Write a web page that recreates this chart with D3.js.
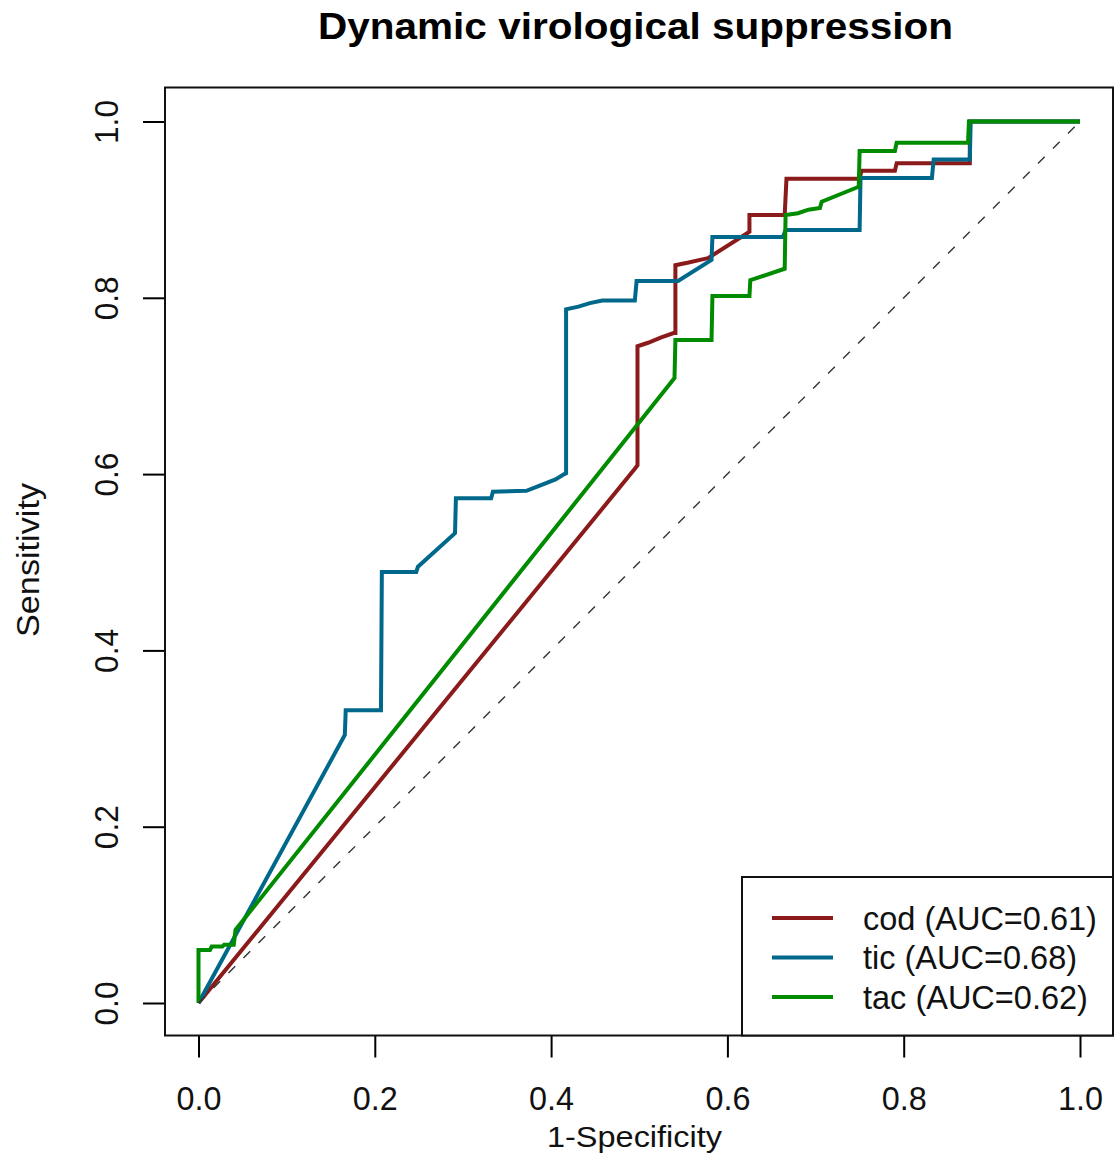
<!DOCTYPE html>
<html>
<head>
<meta charset="utf-8">
<script src="https://cdn.jsdelivr.net/npm/d3@7"></script>
<style>
  body { margin: 0; background: #fff; }
  svg { display: block; font-family: "Liberation Sans", Arial, sans-serif; }
</style>
</head>
<body>
<svg id="chart" width="1115" height="1162"></svg>
<script>
// ROC curves
const codX = [0, 0.495, 0.498, 0.498, 0.510, 0.525, 0.539, 0.541, 0.541, 0.556, 0.569, 0.578, 0.622, 0.625, 0.625, 0.665, 0.667, 0.750, 0.752, 0.790, 0.792, 0.875, 0.875, 1];
const codY = [0, 0.606, 0.610, 0.745, 0.749, 0.755, 0.760, 0.760, 0.837, 0.840, 0.843, 0.845, 0.873, 0.875, 0.894, 0.894, 0.935, 0.935, 0.944, 0.944, 0.9525, 0.9525, 1, 1];

const ticX = [0, 0.166, 0.167, 0.207, 0.208, 0.247, 0.249, 0.291, 0.292, 0.332, 0.334, 0.372, 0.390, 0.405, 0.415, 0.417, 0.417, 0.431, 0.444, 0.458, 0.495, 0.497, 0.544, 0.582, 0.583, 0.663, 0.666, 0.750, 0.751, 0.832, 0.834, 0.875, 0.876, 1];
const ticY = [0, 0.304, 0.332, 0.332, 0.489, 0.489, 0.495, 0.533, 0.5725, 0.5725, 0.580, 0.581, 0.588, 0.594, 0.600, 0.601, 0.787, 0.790, 0.794, 0.797, 0.797, 0.819, 0.819, 0.843, 0.869, 0.869, 0.877, 0.877, 0.936, 0.936, 0.957, 0.957, 1, 1];

const tacX = [0, 0, 0.013, 0.015, 0.027, 0.029, 0.040, 0.042, 0.540, 0.541, 0.582, 0.583, 0.625, 0.626, 0.665, 0.666, 0.680, 0.692, 0.705, 0.707, 0.749, 0.750, 0.790, 0.792, 0.873, 0.874, 1];
const tacY = [0, 0.060, 0.060, 0.064, 0.064, 0.066, 0.066, 0.083, 0.709, 0.752, 0.752, 0.802, 0.802, 0.820, 0.833, 0.894, 0.896, 0.900, 0.902, 0.909, 0.926, 0.9665, 0.9665, 0.976, 0.976, 1, 1];

const seriesNames = ['cod', 'tic', 'tac'];
const seriesAuc = ['0.61', '0.68', '0.62'];
const seriesColors = ['#8B1A1A', '#00688B', '#008B00'];
const tickValues = [0, 0.2, 0.4, 0.6, 0.8, 1.0];

const series = [
  {x: codX, y: codY},
  {x: ticX, y: ticY},
  {x: tacX, y: tacY}
].map((s, i) => ({
  name: seriesNames[i],
  auc: seriesAuc[i],
  color: seriesColors[i],
  points: s.x.map((v, j) => [v, s.y[j]])
}));

const svg = d3.select('#chart');
const box = {left: 165, right: 1113, top: 87.5, bottom: 1035.5};

const x = d3.scaleLinear().domain([0, 1]).range([198.5, 1080]);
const y = d3.scaleLinear().domain([0, 1]).range([1003, 121.5]);

// axes
const xAxis = svg.append('g')
    .attr('transform', `translate(0,${box.bottom})`)
    .call(d3.axisBottom(x).tickValues(tickValues).tickFormat(d3.format('.1f'))
      .tickSize(22).tickPadding(29));
xAxis.select('.domain').remove();
xAxis.selectAll('line').attr('stroke', '#000').attr('stroke-width', 2);
xAxis.selectAll('text').attr('font-size', 33).attr('fill', '#111')
    .attr('textLength', 45).attr('lengthAdjust', 'spacingAndGlyphs')
    .attr('font-family', '"Liberation Sans", Arial, sans-serif');

const yAxis = svg.append('g')
    .attr('transform', `translate(${box.left},0)`)
    .call(d3.axisLeft(y).tickValues(tickValues).tickFormat(d3.format('.1f')).tickSize(22));
yAxis.select('.domain').remove();
yAxis.selectAll('line').attr('stroke', '#000').attr('stroke-width', 2);
yAxis.selectAll('text')
    .attr('x', null).attr('dy', null)
    .attr('transform', 'translate(-47,0) rotate(-90)')
    .attr('text-anchor', 'middle')
    .attr('font-size', 33).attr('fill', '#111')
    .attr('textLength', 44).attr('lengthAdjust', 'spacingAndGlyphs')
    .attr('font-family', '"Liberation Sans", Arial, sans-serif');

// plot box
svg.append('rect')
    .attr('x', box.left).attr('y', box.top)
    .attr('width', box.right - box.left).attr('height', box.bottom - box.top)
    .attr('fill', 'none').attr('stroke', '#111').attr('stroke-width', 2);

// curves
const line = d3.line().x(d => x(d[0])).y(d => y(d[1]));
svg.append('g').selectAll('path')
  .data(series)
  .join('path')
    .attr('d', d => line(d.points))
    .attr('fill', 'none')
    .attr('stroke', d => d.color)
    .attr('stroke-width', 4)
    .attr('stroke-linejoin', 'miter');

// chance line
svg.append('path')
    .attr('d', line([[0, 0], [1, 1]]))
    .attr('stroke', '#333').attr('stroke-width', 1.4)
    .attr('stroke-dasharray', '9.5,11.7').attr('fill', 'none');

// titles
svg.append('text')
    .attr('x', 635.5).attr('y', 39)
    .attr('text-anchor', 'middle')
    .attr('font-weight', 'bold').attr('font-size', 37)
    .attr('textLength', 635).attr('lengthAdjust', 'spacingAndGlyphs')
    .text('Dynamic virological suppression');

svg.append('text')
    .attr('x', 634.5).attr('y', 1147)
    .attr('text-anchor', 'middle').attr('font-size', 29).attr('fill', '#111')
    .attr('textLength', 175).attr('lengthAdjust', 'spacingAndGlyphs')
    .text('1-Specificity');

svg.append('text')
    .attr('transform', 'translate(39,560) rotate(-90)')
    .attr('text-anchor', 'middle').attr('font-size', 31).attr('fill', '#111')
    .attr('textLength', 154).attr('lengthAdjust', 'spacingAndGlyphs')
    .text('Sensitivity');

// legend
const legend = svg.append('g');
legend.append('rect')
    .attr('x', 742).attr('y', 877)
    .attr('width', box.right - 742).attr('height', box.bottom - 877)
    .attr('fill', '#fff').attr('stroke', '#111').attr('stroke-width', 2);

const rows = legend.selectAll('g.row')
  .data(series)
  .join('g')
    .attr('class', 'row')
    .attr('transform', (d, i) => `translate(0,${918 + i * 39.5})`);
rows.append('line')
    .attr('x1', 772).attr('x2', 833)
    .attr('stroke', d => d.color).attr('stroke-width', 4);
rows.append('text')
    .attr('x', 863).attr('dy', '0.36em')
    .attr('font-size', 32.5).attr('fill', '#111')
    .text(d => `${d.name} (AUC=${d.auc})`);
</script>
</body>
</html>
